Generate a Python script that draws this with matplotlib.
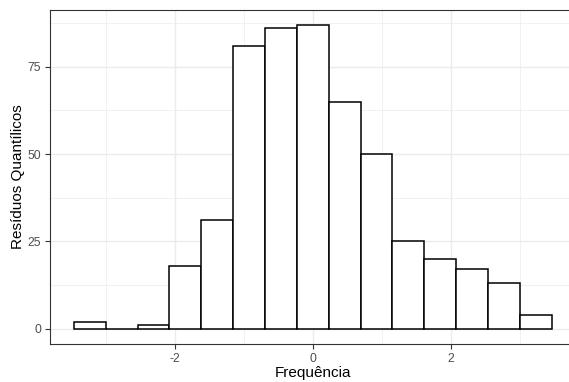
import numpy as np
import matplotlib
matplotlib.use("Agg")
import matplotlib.pyplot as plt
from matplotlib.ticker import MultipleLocator

plt.rcParams['font.family'] = ['Liberation Sans', 'DejaVu Sans']
plt.rcParams['axes.unicode_minus'] = False

# histogram counts (15 bins, bin centred on 0 is index 7)
counts = [2, 0, 1, 18, 31, 81, 86, 87, 65, 50, 25, 20, 17, 13, 4]
bin_width = 0.462
zero_bin = 7
x_ticks = [-2, 0, 2]
y_ticks = [0, 25, 50, 75]

centers = (np.arange(len(counts)) - zero_bin) * bin_width

W, H = 569, 382
fig = plt.figure(figsize=(W / 100, H / 100), dpi=100)
left, right, bottom, top = 50, 575.5, 344, 9.5
ax = fig.add_axes([left / W, (H - bottom) / H, (right - left) / W, (bottom - top) / H])

ax.bar(centers, counts, width=bin_width, color='white', edgecolor='black',
       linewidth=1.1, zorder=3)

lo = centers[0] - bin_width / 2
hi = centers[-1] + bin_width / 2
xpad = (hi - lo) * 0.05
ax.set_xlim(lo - xpad, hi + xpad)
ax.set_ylim(-max(counts) * 0.05, max(counts) * 1.05)

ax.set_xticks(x_ticks)
ax.set_yticks(y_ticks)
ax.xaxis.set_minor_locator(MultipleLocator(1))
ax.yaxis.set_minor_locator(MultipleLocator(12.5))
ax.grid(which='major', color='#EBEBEB', linewidth=1.0, zorder=0)
ax.grid(which='minor', color='#EBEBEB', linewidth=0.5, zorder=0)
ax.set_axisbelow(True)
ax.tick_params(which='minor', length=0)
ax.tick_params(which='major', length=3.5, width=0.8, color='#333333',
               labelcolor='#4D4D4D', labelsize=8.8, pad=3)
for s in ax.spines.values():
    s.set_color('#333333')
    s.set_linewidth(0.8)

ax.set_xlabel('Frequência', fontsize=11, labelpad=0.5)
ax.set_ylabel('Resíduos Quantílicos', fontsize=11, labelpad=1.5)

fig.savefig('out.png', dpi=100)
